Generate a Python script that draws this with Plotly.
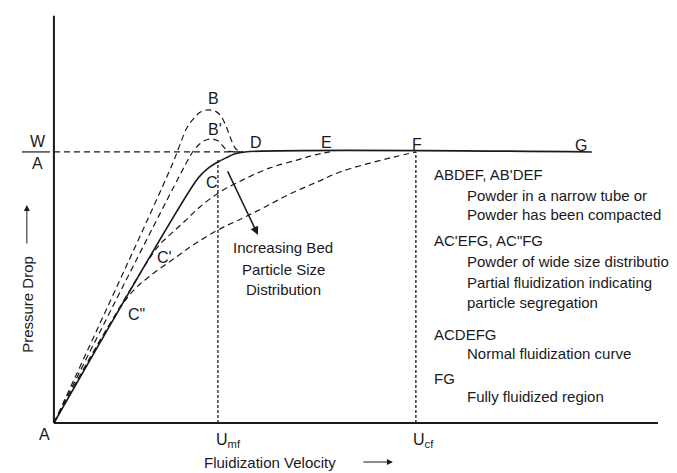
import plotly.graph_objects as go

# ---- data (velocity in units of U_mf, pressure drop in units of W/A) ----
u_normal = [0.0, 0.866, 0.909, 0.951, 1.000, 1.049, 1.104, 1.165, 3.280]
dp_normal = [0.0, 0.893, 0.923, 0.945, 0.963, 0.978, 0.993, 1.000, 1.000]

u_B = [0.0, 0.720, 0.768, 0.811, 0.854, 0.896, 0.939, 0.982, 1.018, 1.049, 1.079, 1.110, 1.152]
dp_B = [0.0, 0.952, 1.026, 1.089, 1.125, 1.148, 1.155, 1.151, 1.133, 1.096, 1.048, 1.011, 1.000]

u_Bp = [0.0, 0.817, 0.854, 0.890, 0.927, 0.963, 1.000, 1.030, 1.061, 1.152]
dp_Bp = [0.0, 0.970, 1.007, 1.030, 1.044, 1.048, 1.041, 1.022, 1.004, 1.000]

u_Cp = [0.0, 0.628, 0.707, 0.799, 0.890, 1.012, 1.152, 1.317, 1.482, 1.591, 1.683]
dp_Cp = [0.0, 0.646, 0.694, 0.745, 0.797, 0.852, 0.897, 0.941, 0.970, 0.989, 1.000]

u_Cpp = [0.0, 0.451, 0.585, 0.738, 0.860, 1.012, 1.152, 1.287, 1.439, 1.604, 1.744, 1.927, 2.079, 2.207]
dp_Cpp = [0.0, 0.465, 0.542, 0.609, 0.661, 0.716, 0.756, 0.797, 0.845, 0.889, 0.926, 0.959, 0.982, 1.000]

u_mf = 1.0
u_cf = 2.207
w_over_a = 1.0
u_D = 1.152
x_axis_end = 3.683
y_axis_end = 1.502

point_labels = ["B", "B'", "D", "E", "F", "G", "C", "C'", 'C"', "A"]
point_u = [0.970, 0.985, 1.232, 1.665, 2.213, 3.213, 0.963, 0.677, 0.506, -0.055]
point_dp = [1.196, 1.081, 1.033, 1.033, 1.026, 1.022, 0.886, 0.609, 0.399, -0.041]

legend_lines = [
    ("ABDEF, AB'DEF", 0),
    ("Powder in a narrow tube or", 1),
    ("Powder has been compacted", 1),
    ("AC'EFG, AC\"FG", 0),
    ("Powder of wide size distribution", 1),
    ("Partial fluidization indicating", 1),
    ("particle segregation", 1),
    ("ACDEFG", 0),
    ("Normal fluidization curve", 1),
    ("FG", 0),
    ("Fully fluidized region", 1),
]
legend_dp = [0.915, 0.841, 0.768, 0.675, 0.594, 0.520, 0.443, 0.325, 0.258, 0.166, 0.096]

arrow_text = ["Increasing Bed", "Particle Size", "Distribution"]
arrow_text_dp = [0.646, 0.565, 0.491]

INK = "#1a1a1a"
FONT = "Liberation Sans, Arial, sans-serif"

fig = go.Figure()

# axis lines
fig.add_trace(go.Scatter(x=[0, 0], y=[0, y_axis_end], mode="lines",
                         line=dict(color=INK, width=2), hoverinfo="skip"))
fig.add_trace(go.Scatter(x=[0, x_axis_end], y=[0, 0], mode="lines",
                         line=dict(color=INK, width=2), hoverinfo="skip"))

# W/A fraction bar
fig.add_trace(go.Scatter(x=[-0.195, -0.024], y=[w_over_a, w_over_a], mode="lines",
                         line=dict(color=INK, width=1.2), hoverinfo="skip"))
# W/A dashed level
fig.add_trace(go.Scatter(x=[0, u_D], y=[w_over_a, w_over_a], mode="lines",
                         line=dict(color=INK, width=1.3, dash="6px,4px"), hoverinfo="skip"))

# vertical markers
fig.add_trace(go.Scatter(x=[u_mf, u_mf], y=[0, 0.97], mode="lines",
                         line=dict(color=INK, width=1.3, dash="3px,2px"), hoverinfo="skip"))
fig.add_trace(go.Scatter(x=[u_cf, u_cf], y=[0, w_over_a], mode="lines",
                         line=dict(color=INK, width=1.3, dash="3px,2px"), hoverinfo="skip"))

# dashed curves
for ux, py in [(u_B, dp_B), (u_Bp, dp_Bp), (u_Cp, dp_Cp), (u_Cpp, dp_Cpp)]:
    fig.add_trace(go.Scatter(x=ux, y=py, mode="lines", line_shape="spline",
                             line=dict(color=INK, width=1.2, dash="6px,4px"),
                             hoverinfo="skip"))

# normal curve (solid)
fig.add_trace(go.Scatter(x=u_normal, y=dp_normal, mode="lines", line_shape="spline",
                         line=dict(color=INK, width=1.6), hoverinfo="skip"))

ann = []
def txt(x, y, s, xanchor="center", size=15, angle=0):
    ann.append(dict(x=x, y=y, xref="x", yref="y", text=s, showarrow=False,
                    xanchor=xanchor, yanchor="middle", textangle=angle,
                    font=dict(family=FONT, size=size, color=INK)))

for s, ux, py in zip(point_labels, point_u, point_dp):
    txt(ux, py, s, size=16)

txt(-0.098, 1.037, "W", size=16)
txt(-0.098, 0.956, "A", size=16)

txt(0.976, -0.063, "U<sub>mf</sub>", xanchor="left", size=16)
txt(2.177, -0.063, "U<sub>cf</sub>", xanchor="left", size=16)
txt(1.317, -0.144, "Fluidization Velocity")
txt(-0.165, 0.439, "Pressure Drop", angle=-90)

for (s, ind), py in zip(legend_lines, legend_dp):
    txt(2.506 if ind else 2.305, py, s, xanchor="left")

for s, py in zip(arrow_text, arrow_text_dp):
    txt(1.397, py, s)

# arrows
def arrow(x, y, ax, ay, w=1.2, size=1.0):
    ann.append(dict(x=x, y=y, ax=ax, ay=ay, xref="x", yref="y", axref="x", ayref="y",
                    text="", showarrow=True, arrowhead=2, arrowsize=size,
                    arrowwidth=w, arrowcolor=INK))

arrow(1.244, 0.694, 1.055, 0.934, w=1.5, size=1.1)
arrow(2.067, -0.144, 1.878, -0.144, w=1.0, size=1.2)
arrow(-0.165, 0.804, -0.165, 0.657, w=1.0, size=1.2)

# page body has an 8px margin: ranges compensate so marks land where intended
fig.update_layout(
    width=677, height=473, autosize=False,
    margin=dict(l=0, r=0, t=0, b=0, pad=0),
    paper_bgcolor="white", plot_bgcolor="white",
    showlegend=False,
    xaxis=dict(range=[-0.280, 3.848], visible=False, fixedrange=True),
    yaxis=dict(range=[-0.214, 1.531], visible=False, fixedrange=True),
    annotations=ann,
)

fig.write_html("out.html")
